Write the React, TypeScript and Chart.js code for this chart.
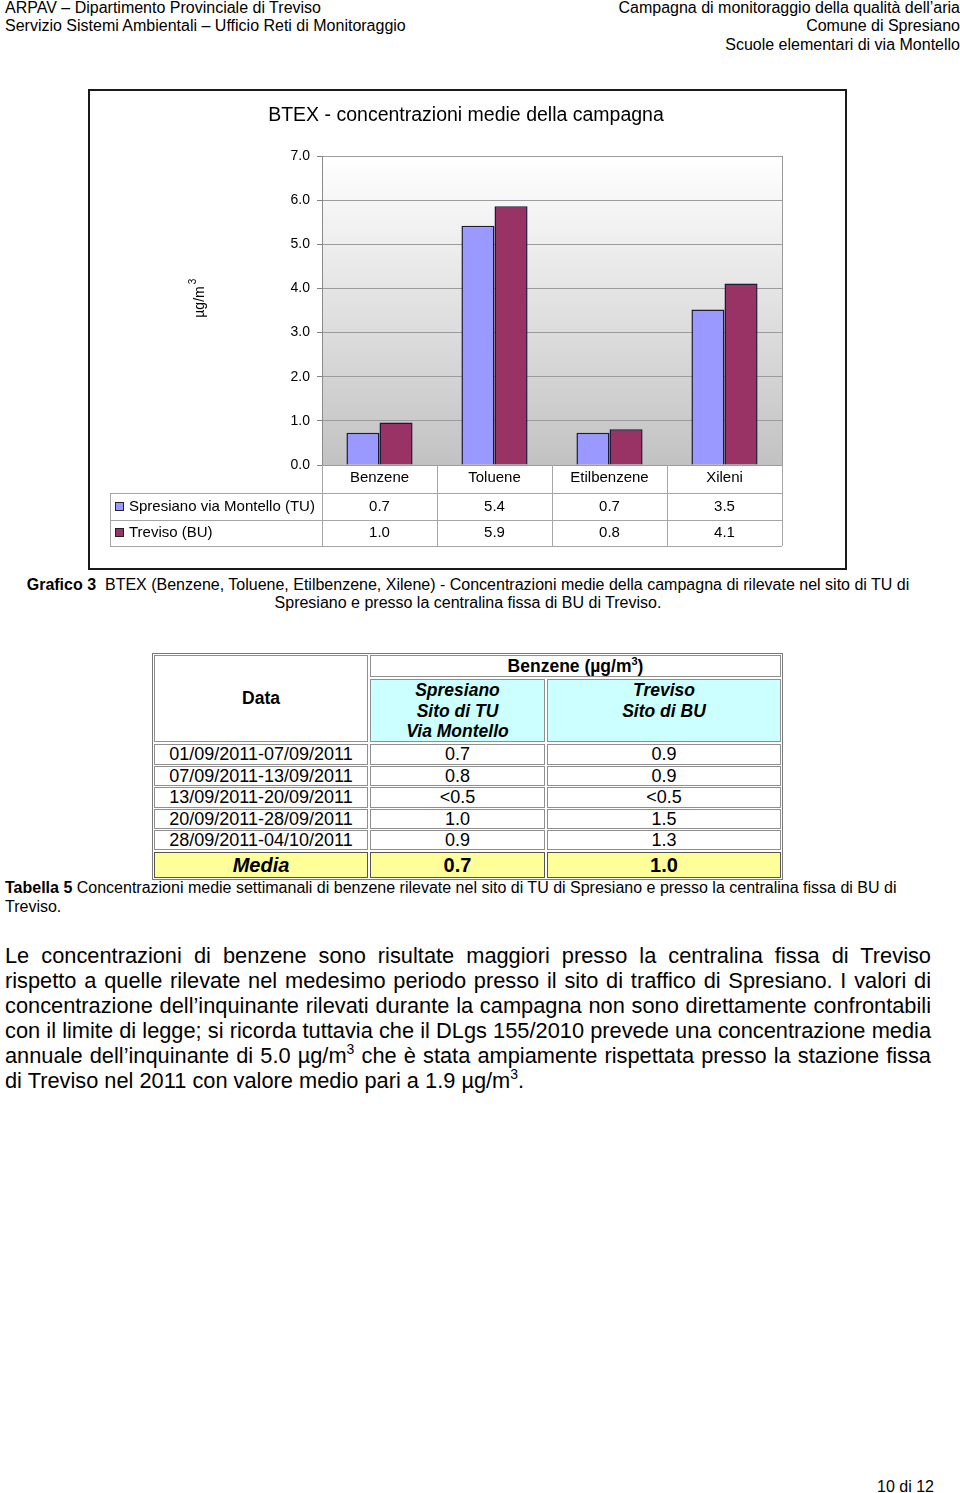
import React, { useEffect, useRef } from 'react';
import { Chart, registerables } from 'chart.js';

Chart.register(...registerables);

// ---------- chart data ----------
const categories = ['Benzene', 'Toluene', 'Etilbenzene', 'Xileni'];
const seriesNames = ['Spresiano via Montello (TU)', 'Treviso (BU)'];
const tuValues = [0.73, 5.42, 0.73, 3.52];
const buValues = [0.96, 5.86, 0.81, 4.11];
const yTicks = [0, 1, 2, 3, 4, 5, 6, 7];
const chartTitle = 'BTEX - concentrazioni medie della campagna';
const yTitle = 'µg/m';

// ---------- table data ----------
const periods = [
  '01/09/2011-07/09/2011',
  '07/09/2011-13/09/2011',
  '13/09/2011-20/09/2011',
  '20/09/2011-28/09/2011',
  '28/09/2011-04/10/2011',
];
const benzeneTU = ['0.7', '0.8', '<0.5', '1.0', '0.9'];
const benzeneBU = ['0.9', '0.9', '<0.5', '1.5', '1.3'];
const benzeneMean = ['0.7', '1.0'];

const FONT = "'Liberation Sans', Arial, Helvetica, sans-serif";
const COLORS = ['#9999ff', '#993366'];
const BAR_BORDER = '#1e1a36';

const CW = 759;
const CH = 481;

const bgPlugin = {
  id: 'bgPlugin',
  beforeDraw(chart: any) {
    const { ctx, chartArea } = chart;
    ctx.save();
    ctx.fillStyle = '#ffffff';
    ctx.fillRect(0, 0, chart.width, chart.height);
    const g = ctx.createLinearGradient(0, chartArea.top, 0, chartArea.bottom);
    g.addColorStop(0, '#ffffff');
    g.addColorStop(1, '#c2c2c2');
    ctx.fillStyle = g;
    ctx.fillRect(chartArea.left, chartArea.top, chartArea.right - chartArea.left, chartArea.bottom - chartArea.top);
    ctx.restore();
  },
};

const tablePlugin = {
  id: 'tablePlugin',
  afterDraw(chart: any) {
    const { ctx, chartArea } = chart;
    const xs = chart.scales.x;
    const n = categories.length;
    const catW = (chartArea.right - chartArea.left) / n;
    ctx.save();

    // plot right border
    ctx.strokeStyle = '#9a9a9a';
    ctx.lineWidth = 1;
    ctx.beginPath();
    ctx.moveTo(Math.round(chartArea.right) + 0.5, chartArea.top);
    ctx.lineTo(Math.round(chartArea.right) + 0.5, chartArea.bottom);
    ctx.stroke();

    // outer frame
    ctx.strokeStyle = '#1a1a1a';
    ctx.lineWidth = 2;
    ctx.strokeRect(1, 1, chart.width - 2, chart.height - 2);

    // title
    ctx.fillStyle = '#000';
    ctx.font = `19.5px ${FONT}`;
    ctx.textAlign = 'center';
    ctx.textBaseline = 'middle';
    ctx.fillText(chartTitle, 378, 27);

    // y title (rotated)
    ctx.save();
    ctx.translate(112, 213);
    ctx.rotate(-Math.PI / 2);
    ctx.font = `14px ${FONT}`;
    ctx.textAlign = 'center';
    ctx.textBaseline = 'middle';
    ctx.fillText(yTitle, 0, 0);
    const w = ctx.measureText(yTitle).width;
    ctx.font = `10px ${FONT}`;
    ctx.textAlign = 'left';
    ctx.fillText('3', w / 2 + 2, -7);
    ctx.restore();

    // data table under the axis
    const rowTop = chartArea.bottom;
    const r1 = 404;
    const r2 = 431;
    const r3 = 457;
    const tLeft = 22;
    ctx.strokeStyle = '#a6a6a6';
    ctx.lineWidth = 1;
    ctx.beginPath();
    for (let i = 0; i <= n; i++) {
      const x = Math.round(chartArea.left + i * catW) + 0.5;
      ctx.moveTo(x, rowTop);
      ctx.lineTo(x, r3);
    }
    ctx.moveTo(tLeft + 0.5, r1);
    ctx.lineTo(tLeft + 0.5, r3);
    [r1, r2, r3].forEach((y) => {
      ctx.moveTo(tLeft, y + 0.5);
      ctx.lineTo(chartArea.right, y + 0.5);
    });
    ctx.stroke();

    ctx.fillStyle = '#000';
    ctx.font = `15px ${FONT}`;
    ctx.textAlign = 'center';
    ctx.textBaseline = 'middle';
    categories.forEach((c, i) => {
      const cx = xs.getPixelForValue(i);
      ctx.fillText(c, cx, 389);
    });

    const rows = [
      { name: seriesNames[0], vals: tuValues, color: COLORS[0], y: 418 },
      { name: seriesNames[1], vals: buValues, color: COLORS[1], y: 444 },
    ];
    rows.forEach((r) => {
      ctx.fillStyle = r.color;
      ctx.fillRect(27, r.y - 5, 9, 9);
      ctx.strokeStyle = '#222';
      ctx.lineWidth = 1;
      ctx.strokeRect(27.5, r.y - 4.5, 8, 8);
      ctx.fillStyle = '#000';
      ctx.textAlign = 'left';
      ctx.fillText(r.name, 41, r.y);
      ctx.textAlign = 'center';
      r.vals.forEach((v, i) => {
        ctx.fillText(v.toFixed(1), xs.getPixelForValue(i), r.y);
      });
    });
    ctx.restore();
  },
};

function BtexChart() {
  const ref = useRef<HTMLCanvasElement | null>(null);
  useEffect(() => {
    if (!ref.current) return;
    const chart = new Chart(ref.current, {
      type: 'bar',
      data: {
        labels: categories,
        datasets: [
          {
            label: seriesNames[0],
            data: tuValues,
            backgroundColor: COLORS[0],
            borderColor: BAR_BORDER,
            borderWidth: 1.5,
            categoryPercentage: 0.575,
            barPercentage: 1,
          },
          {
            label: seriesNames[1],
            data: buValues,
            backgroundColor: COLORS[1],
            borderColor: BAR_BORDER,
            borderWidth: 1.5,
            categoryPercentage: 0.575,
            barPercentage: 1,
          },
        ],
      },
      options: {
        responsive: false,
        animation: false,
        events: [],
        layout: { padding: { left: 0, right: 65, top: 67, bottom: 0 } },
        plugins: {
          legend: { display: false },
          title: { display: false },
          tooltip: { enabled: false },
        },
        scales: {
          x: {
            grid: { display: false },
            border: { display: false },
            ticks: { display: false },
            afterFit: (s: any) => {
              s.height = 105;
            },
          },
          y: {
            min: 0,
            max: 7,
            afterBuildTicks: (s: any) => {
              s.ticks = yTicks.map((v) => ({ value: v }));
            },
            ticks: {
              callback: (v: any) => Number(v).toFixed(1),
              font: { family: FONT, size: 14 },
              color: '#000',
              padding: 7,
            },
            grid: { color: '#9c9c9c', tickLength: 5, tickColor: '#808080' },
            border: { color: '#8a8a8a' },
            afterFit: (s: any) => {
              s.width = 234;
            },
          },
        },
      },
      plugins: [bgPlugin, tablePlugin],
    } as any);
    return () => chart.destroy();
  }, []);
  return (
    <canvas
      ref={ref}
      width={CW}
      height={CH}
      style={{ position: 'absolute', left: 88, top: 89, width: CW, height: CH }}
    />
  );
}

// text line helper positioned by baseline
function Line(props: {
  x?: number;
  right?: number;
  w?: number;
  base: number;
  size: number;
  align?: any;
  last?: any;
  children: any;
  style?: any;
}) {
  const { x, right, w, base, size, align, last, children, style } = props;
  const top = base - 0.8465 * size;
  const st: any = {
    position: 'absolute',
    top,
    fontSize: size,
    lineHeight: `${size}px`,
    whiteSpace: 'nowrap',
    fontFamily: FONT,
    color: '#000',
    textAlign: align || 'left',
    textAlignLast: last || align || 'left',
    ...style,
  };
  if (x !== undefined) st.left = x;
  if (right !== undefined) st.right = right;
  if (w !== undefined) st.width = w;
  return <div style={st}>{children}</div>;
}

const sup = (
  <span style={{ fontSize: 14, position: 'relative', top: -9, lineHeight: 0 }}>3</span>
);

function Cell(props: { x0: number; x1: number; y0: number; y1: number; bg?: string; style?: any; children?: any }) {
  const { x0, x1, y0, y1, bg, style, children } = props;
  return (
    <div
      style={{
        position: 'absolute',
        left: x0,
        top: y0,
        width: x1 - x0,
        height: y1 - y0,
        boxSizing: 'border-box',
        border: '1px solid #8f8f8f',
        background: bg || '#fff',
        fontFamily: FONT,
        color: '#000',
        textAlign: 'center',
        display: 'flex',
        alignItems: 'center',
        justifyContent: 'center',
        ...style,
      }}
    >
      {children}
    </div>
  );
}

function DataTable() {
  const rowY = [744, 766, 787, 809, 830, 851];
  const c0 = [154, 368];
  const c1 = [370, 545];
  const c2 = [547, 781];
  const fs = 17.5;
  const fd = 18;
  return (
    <div>
      <div
        style={{
          position: 'absolute',
          left: 152,
          top: 653,
          width: 631,
          height: 227,
          boxSizing: 'border-box',
          border: '1px solid #7a7a7a',
        }}
      />
      <Cell x0={c0[0]} x1={c0[1]} y0={655} y1={742} style={{ fontSize: fs, fontWeight: 'bold' }}>
        Data
      </Cell>
      <Cell x0={c1[0]} x1={c2[1]} y0={655} y1={677} style={{ fontSize: fs, fontWeight: 'bold' }}>
        <span>
          Benzene (µg/m<span style={{ fontSize: 11, position: 'relative', top: -7 }}>3</span>)
        </span>
      </Cell>
      <Cell
        x0={c1[0]}
        x1={c1[1]}
        y0={679}
        y1={742}
        bg="#ccffff"
        style={{ fontSize: fs, fontWeight: 'bold', fontStyle: 'italic', alignItems: 'flex-start', lineHeight: '20.5px', paddingTop: 0 }}
      >
        <div>
          Spresiano
          <br />
          Sito di TU
          <br />
          Via Montello
        </div>
      </Cell>
      <Cell
        x0={c2[0]}
        x1={c2[1]}
        y0={679}
        y1={742}
        bg="#ccffff"
        style={{ fontSize: fs, fontWeight: 'bold', fontStyle: 'italic', alignItems: 'flex-start', lineHeight: '20.5px', paddingTop: 0 }}
      >
        <div>
          Treviso
          <br />
          Sito di BU
        </div>
      </Cell>
      {periods.map((p, i) => (
        <React.Fragment key={p}>
          <Cell x0={c0[0]} x1={c0[1]} y0={rowY[i]} y1={rowY[i + 1] - 1} style={{ fontSize: fd }}>
            {p}
          </Cell>
          <Cell x0={c1[0]} x1={c1[1]} y0={rowY[i]} y1={rowY[i + 1] - 1} style={{ fontSize: fd }}>
            {benzeneTU[i]}
          </Cell>
          <Cell x0={c2[0]} x1={c2[1]} y0={rowY[i]} y1={rowY[i + 1] - 1} style={{ fontSize: fd }}>
            {benzeneBU[i]}
          </Cell>
        </React.Fragment>
      ))}
      <Cell x0={c0[0]} x1={c0[1]} y0={852} y1={878} bg="#ffff99" style={{ fontSize: 20, fontWeight: 'bold', fontStyle: 'italic', borderColor: '#555' }}>
        Media
      </Cell>
      <Cell x0={c1[0]} x1={c1[1]} y0={852} y1={878} bg="#ffff99" style={{ fontSize: 20, fontWeight: 'bold', borderColor: '#555' }}>
        {benzeneMean[0]}
      </Cell>
      <Cell x0={c2[0]} x1={c2[1]} y0={852} y1={878} bg="#ffff99" style={{ fontSize: 20, fontWeight: 'bold', borderColor: '#555' }}>
        {benzeneMean[1]}
      </Cell>
    </div>
  );
}

export default function App() {
  const pw = 926;
  const ps = 21.8;
  return (
    <div
      style={{
        position: 'absolute',
        left: 0,
        top: 0,
        width: 960,
        height: 1493,
        background: '#fff',
        overflow: 'hidden',
        fontFamily: FONT,
      }}
    >
      {/* header */}
      <Line x={5} base={13.5} size={16}>ARPAV – Dipartimento Provinciale di Treviso</Line>
      <Line x={5} base={32} size={16}>Servizio Sistemi Ambientali – Ufficio Reti di Monitoraggio</Line>
      <Line right={0} base={13.5} size={16} align="right">Campagna di monitoraggio della qualità dell’aria</Line>
      <Line right={0} base={32} size={16} align="right">Comune di Spresiano</Line>
      <Line right={0} base={50.5} size={16} align="right">Scuole elementari di via Montello</Line>

      <BtexChart />

      {/* chart caption */}
      <Line x={5} w={pw} base={590.5} size={16} align="center">
        <b>Grafico 3</b>&nbsp; BTEX (Benzene, Toluene, Etilbenzene, Xilene) - Concentrazioni medie della campagna di rilevate nel sito di TU di
      </Line>
      <Line x={5} w={pw} base={608.5} size={16} align="center">
        Spresiano e presso la centralina fissa di BU di Treviso.
      </Line>

      <DataTable />

      {/* table caption */}
      <Line x={5} base={893.5} size={16}>
        <b>Tabella 5</b> Concentrazioni medie settimanali di benzene rilevate nel sito di TU di Spresiano e presso la centralina fissa di BU di
      </Line>
      <Line x={5} base={912.5} size={16}>Treviso.</Line>

      {/* paragraph */}
      <Line x={5} w={pw} base={963.5} size={ps} align="justify" last="justify">
        Le concentrazioni di benzene sono risultate maggiori presso la centralina fissa di Treviso
      </Line>
      <Line x={5} w={pw} base={988.5} size={ps} align="justify" last="justify">
        rispetto a quelle rilevate nel medesimo periodo presso il sito di traffico di Spresiano. I valori di
      </Line>
      <Line x={5} w={pw} base={1013.5} size={ps} align="justify" last="justify">
        concentrazione dell’inquinante rilevati durante la campagna non sono direttamente confrontabili
      </Line>
      <Line x={5} w={pw} base={1038.5} size={ps} align="justify" last="justify">
        con il limite di legge; si ricorda tuttavia che il DLgs 155/2010 prevede una concentrazione media
      </Line>
      <Line x={5} w={pw} base={1063.5} size={ps} align="justify" last="justify">
        annuale dell’inquinante di 5.0 µg/m{sup} che è stata ampiamente rispettata presso la stazione fissa
      </Line>
      <Line x={5} base={1088.5} size={ps}>
        di Treviso nel 2011 con valore medio pari a 1.9 µg/m{sup}.
      </Line>

      {/* footer */}
      <Line x={877} base={1492.5} size={16}>10 di 12</Line>
    </div>
  );
}
